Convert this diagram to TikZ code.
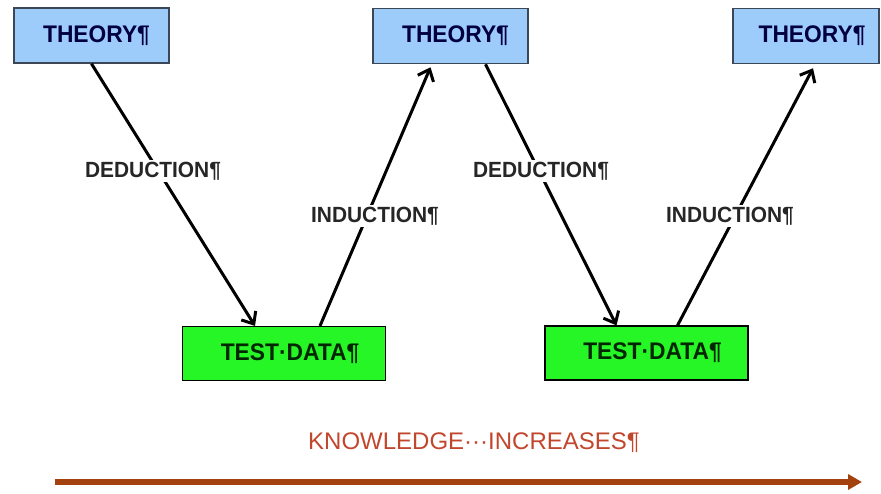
\documentclass[tikz,border=0pt]{standalone}
\usepackage{fontspec}
\newfontfamily\diagfont{Liberation Sans}[FakeStretch=0.95]
\usetikzlibrary{arrows.meta}

\definecolor{theoryblue}{HTML}{9DCBFA}
\definecolor{theoryedge}{HTML}{3B4756}
\definecolor{datagreen}{HTML}{26F526}
\definecolor{knowred}{HTML}{C2462C}
\definecolor{knowbrown}{HTML}{A3420F}

\tikzset{
  theory/.style={draw=theoryedge, line width=1.5pt, fill=theoryblue,
    minimum width=155pt, minimum height=55pt, inner sep=0pt,
    font=\diagfont\bfseries\fontsize{24}{24}\selectfont, text=black!75!blue},
  testdata/.style={draw=black, line width=1.2pt, fill=datagreen,
    minimum width=203pt, minimum height=54pt, inner sep=0pt,
    font=\diagfont\bfseries\fontsize{24}{24}\selectfont, text=black!85!green},
  lbl/.style={fill=white, inner sep=2pt, text=black!85,
    font=\diagfont\bfseries\fontsize{22}{22}\selectfont},
  stepline/.style={line width=3pt, -{Straight Barb[length=10pt,width=17pt]}}
}

\begin{document}
\begin{tikzpicture}[x=1pt, y=-1pt]
    \useasboundingbox (0,0) rectangle (881,493);

    % boxes
    \node[theory] (th1) at (91.5,35.5) {\hspace*{10pt}THEORY¶};
    \node[theory] (th2) at (450.5,36) {\hspace*{10pt}THEORY¶};
    \node[theory, minimum width=146pt] (th3) at (806,36) {\hspace*{12pt}THEORY¶};
    \node[testdata] (td1) at (284,353.5) {\hspace*{12pt}TEST·DATA¶};
    \node[testdata] (td2) at (646.5,353) {\hspace*{12pt}TEST·DATA¶};

    % deduction down, induction up
    \draw[stepline] (th1.south) -- ([xshift=-29pt]td1.north);
    \draw[stepline] ([xshift=36pt]td1.north) -- ([xshift=-20pt,yshift=-3pt]th2.south);
    \draw[stepline] ([xshift=35pt]th2.south) -- ([xshift=-30pt]td2.north);
    \draw[stepline] ([xshift=31pt]td2.north) -- ([xshift=7pt,yshift=-4pt]th3.south);

    \node[lbl] (ded1) at (153,171) {DEDUCTION¶};
    \node[lbl] (ind1) at (375,216) {INDUCTION¶};
    \node[lbl] (ded2) at (541,171) {DEDUCTION¶};
    \node[lbl] (ind2) at (730,216) {INDUCTION¶};

    % knowledge arrow
    \node[text=knowred, font={\fontspec{Liberation Sans}\fontsize{24}{24}\selectfont}] (know) at (474,443) {KNOWLEDGE···INCREASES¶};
    \coordinate (kstart) at (55,482);
    \coordinate (kend) at (862,482);
    \draw[line width=5.5pt, knowbrown, -{Triangle[length=14pt,width=15pt]}] (kstart) -- (kend);
\end{tikzpicture}
\end{document}
